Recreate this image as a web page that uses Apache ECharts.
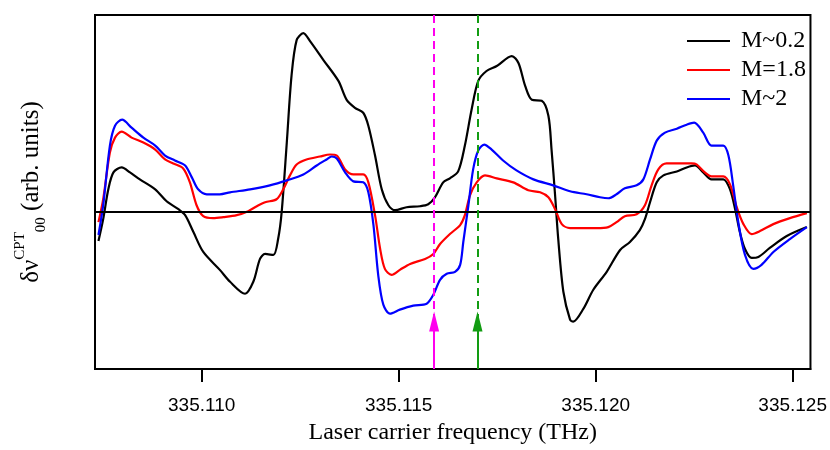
<!DOCTYPE html>
<html>
<head>
<meta charset="utf-8">
<script src="https://cdn.jsdelivr.net/npm/echarts@6/dist/echarts.min.js"></script>
<style>html,body{margin:0;padding:0;background:#fff}#c{width:830px;height:450px}</style>
</head>
<body>
<div id="c"></div>
<script>
const seriesNames = ['M~0.2', 'M=1.8', 'M~2'];
const tickValues = [335.110, 335.115, 335.120, 335.125];
const markerFreqs = [335.11590, 335.11700];

const freqBlack = [335.10738,335.10750,335.10763,335.10776,335.10797,335.10818,335.10843,335.10882,335.10911,335.10941,335.10958,335.10979,335.11004,335.11046,335.11072,335.11110,335.11131,335.11148,335.11161,335.11182,335.11194,335.11203,335.11216,335.11228,335.11241,335.11258,335.11275,335.11309,335.11347,335.11368,335.11389,335.11410,335.11423,335.11440,335.11457,335.11474,335.11491,335.11520,335.11554,335.11575,335.11592,335.11613,335.11630,335.11651,335.11668,335.11685,335.11702,335.11723,335.11749,335.11787,335.11804,335.11821,335.11838,335.11863,335.11880,335.11888,335.11897,335.11905,335.11918,335.11935,335.11943,335.11969,335.11994,335.12028,335.12062,335.12087,335.12112,335.12125,335.12138,335.12155,335.12172,335.12206,335.12231,335.12252,335.12273,335.12294,335.12324,335.12341,335.12354,335.12366,335.12379,335.12396,335.12413,335.12442,335.12485,335.12536];
const valBlack = [-0.29,-0.07,0.23,0.40,0.45,0.40,0.33,0.23,0.11,0.03,-0.03,-0.20,-0.40,-0.58,-0.70,-0.82,-0.70,-0.47,-0.42,-0.43,-0.27,0.00,0.70,1.37,1.73,1.80,1.72,1.53,1.32,1.13,1.05,1.00,0.87,0.57,0.23,0.07,0.02,0.05,0.06,0.08,0.15,0.30,0.34,0.41,0.67,1.03,1.32,1.42,1.47,1.57,1.50,1.27,1.13,1.12,0.97,0.63,0.17,-0.27,-0.80,-1.08,-1.10,-0.97,-0.78,-0.60,-0.38,-0.30,-0.18,-0.07,0.10,0.30,0.37,0.41,0.45,0.47,0.40,0.33,0.33,0.23,0.03,-0.20,-0.37,-0.46,-0.45,-0.36,-0.24,-0.15];

const freqRed = [335.10738,335.10750,335.10767,335.10780,335.10797,335.10822,335.10852,335.10882,335.10907,335.10928,335.10953,335.10970,335.10987,335.11004,335.11029,335.11055,335.11089,335.11118,335.11140,335.11161,335.11190,335.11207,335.11224,335.11241,335.11266,335.11300,335.11326,335.11343,335.11364,335.11385,335.11410,335.11423,335.11440,335.11453,335.11465,335.11482,335.11503,335.11529,335.11567,335.11588,335.11605,335.11630,335.11656,335.11668,335.11681,335.11698,335.11719,335.11749,335.11791,335.11829,335.11859,335.11880,335.11897,335.11914,335.11935,335.11969,335.12003,335.12032,335.12053,335.12074,335.12104,335.12125,335.12142,335.12159,335.12180,335.12214,335.12244,335.12256,335.12277,335.12294,335.12324,335.12341,335.12358,335.12375,335.12396,335.12417,335.12451,335.12493,335.12536];
const valRed = [-0.10,0.13,0.60,0.75,0.81,0.75,0.70,0.63,0.53,0.49,0.44,0.30,0.07,-0.04,-0.06,-0.05,-0.03,0.01,0.06,0.10,0.13,0.23,0.37,0.48,0.53,0.56,0.58,0.57,0.43,0.38,0.38,0.30,-0.03,-0.37,-0.57,-0.63,-0.58,-0.52,-0.47,-0.42,-0.32,-0.22,-0.13,-0.03,0.17,0.30,0.37,0.34,0.30,0.22,0.20,0.15,0.03,-0.12,-0.16,-0.16,-0.16,-0.15,-0.10,-0.04,-0.02,0.07,0.27,0.43,0.49,0.49,0.49,0.48,0.40,0.36,0.36,0.28,0.05,-0.12,-0.22,-0.19,-0.12,-0.06,-0.01];

const freqBlue = [335.10738,335.10750,335.10767,335.10780,335.10798,335.10822,335.10852,335.10882,335.10907,335.10932,335.10958,335.10975,335.10991,335.11013,335.11046,335.11072,335.11123,335.11173,335.11216,335.11258,335.11292,335.11317,335.11330,335.11343,335.11364,335.11385,335.11410,335.11423,335.11436,335.11448,335.11461,335.11478,335.11503,335.11537,335.11571,335.11588,335.11605,335.11622,335.11643,335.11656,335.11664,335.11677,335.11689,335.11702,335.11717,335.11736,335.11765,335.11799,335.11842,335.11892,335.11935,335.11977,335.12011,335.12032,335.12053,335.12074,335.12104,335.12121,335.12138,335.12155,335.12176,335.12206,335.12231,335.12250,335.12273,335.12294,335.12324,335.12337,335.12349,335.12362,335.12379,335.12400,335.12421,335.12451,335.12493,335.12536];
const valBlue = [-0.23,0.07,0.67,0.87,0.93,0.85,0.75,0.67,0.57,0.52,0.47,0.35,0.23,0.18,0.18,0.20,0.23,0.27,0.32,0.38,0.47,0.53,0.56,0.54,0.40,0.31,0.30,0.20,-0.13,-0.63,-0.93,-1.02,-0.98,-0.94,-0.92,-0.83,-0.68,-0.62,-0.60,-0.53,-0.30,0.07,0.43,0.62,0.68,0.63,0.52,0.42,0.33,0.27,0.21,0.18,0.15,0.14,0.18,0.24,0.27,0.33,0.53,0.72,0.80,0.84,0.88,0.90,0.80,0.67,0.67,0.57,0.27,-0.10,-0.43,-0.57,-0.53,-0.40,-0.27,-0.15];

const yMin = -1.577, yMax = 1.983;
const xMin = 335.107292, xMax = 335.125452;
const arrowTip = -1.10;

function pairs(xs, ys) { return xs.map((x, i) => [x, ys[i]]); }

const chart = echarts.init(document.getElementById('c'), null, {renderer: 'canvas'});
const lineW = 2.2;
const serif = 'Liberation Serif, Times New Roman, serif';
const option = {
  animation: false,
  backgroundColor: '#ffffff',
  grid: {left: 95, right: 19.5, top: 15, bottom: 79, show: true, borderColor: '#000', borderWidth: 2, backgroundColor: 'transparent'},
  legend: {
    orient: 'vertical', left: 682, top: 24, itemWidth: 43, itemHeight: 2, itemGap: 5,
    icon: 'rect',
    data: seriesNames,
    textStyle: {fontFamily: serif, fontSize: 24, color: '#000', padding: [0,0,0,6], lineHeight: 24},
  },
  xAxis: {
    type: 'value', min: xMin, max: xMax,
    name: 'Laser carrier frequency (THz)', nameLocation: 'middle', nameGap: 52,
    nameTextStyle: {fontFamily: serif, fontSize: 24, color: '#000'},
    axisLine: {show: true, onZero: false, lineStyle: {color: '#000', width: 2}},
    axisTick: {show: true, customValues: tickValues, length: 13, inside: false, lineStyle: {color: '#000', width: 2}},
    axisLabel: {show: true, customValues: tickValues, margin: 27, fontFamily: 'Liberation Sans, Arial, sans-serif', fontSize: 19, color: '#000',
      formatter: v => Number(v).toFixed(3)},
    splitLine: {show: false}
  },
  yAxis: {
    type: 'value', min: yMin, max: yMax,
    name: '{d|δν}{sup|CPT}{sub|00}{d| (arb. units)}',
    nameLocation: 'middle', nameRotate: 90, nameGap: 46,
    nameTextStyle: {
      color: '#000', fontFamily: serif,
      rich: {
        d: {fontSize: 25, fontFamily: serif, color: '#000', lineHeight: 36, verticalAlign: 'middle'},
        sup: {fontSize: 15, fontFamily: serif, color: '#000', verticalAlign: 'top', lineHeight: 15},
        sub: {fontSize: 15, fontFamily: serif, color: '#000', verticalAlign: 'bottom', lineHeight: 15}
      }
    },
    axisLine: {show: true, onZero: false, lineStyle: {color: '#000', width: 2}},
    axisTick: {show: false}, axisLabel: {show: false}, splitLine: {show: false}
  },
  series: [
    {
      name: seriesNames[0], type: 'line', data: pairs(freqBlack, valBlack), smooth: 0.3, symbol: 'none',
      lineStyle: {color: '#000', width: lineW}, itemStyle: {color: '#000'}, z: 3,
      markLine: {
        silent: true, symbol: 'none', animation: false, label: {show: false},
        data: [
          [{coord: [xMin, 0], lineStyle: {color: '#000', width: 2, type: 'solid'}}, {coord: [xMax, 0]}],
          [{coord: [markerFreqs[0], yMax], lineStyle: {color: '#ff00ee', width: 2, type: [8, 5]}}, {coord: [markerFreqs[0], arrowTip]}],
          [{coord: [markerFreqs[1], yMax], lineStyle: {color: '#129c12', width: 2, type: [8, 5]}}, {coord: [markerFreqs[1], arrowTip]}]
        ]
      }
    },
    {
      name: seriesNames[1], type: 'line', data: pairs(freqRed, valRed), smooth: 0.3, symbol: 'none',
      lineStyle: {color: '#ff0000', width: lineW}, itemStyle: {color: '#ff0000'}, z: 3,
      markLine: {
        silent: true, symbol: ['none', 'triangle'], symbolSize: [10, 20], animation: false, label: {show: false},
        data: [
          [{coord: [markerFreqs[0], yMin], lineStyle: {color: '#ff00ee', width: 2, type: 'solid'}, itemStyle: {color: '#ff00ee'}}, {coord: [markerFreqs[0], arrowTip], itemStyle: {color: '#ff00ee'}}],
          [{coord: [markerFreqs[1], yMin], lineStyle: {color: '#129c12', width: 2, type: 'solid'}, itemStyle: {color: '#129c12'}}, {coord: [markerFreqs[1], arrowTip], itemStyle: {color: '#129c12'}}]
        ]
      }
    },
    {
      name: seriesNames[2], type: 'line', data: pairs(freqBlue, valBlue), smooth: 0.3, symbol: 'none',
      lineStyle: {color: '#0000ff', width: lineW}, itemStyle: {color: '#0000ff'}, z: 3
    }
  ]
};
chart.setOption(option);
</script>
</body>
</html>
